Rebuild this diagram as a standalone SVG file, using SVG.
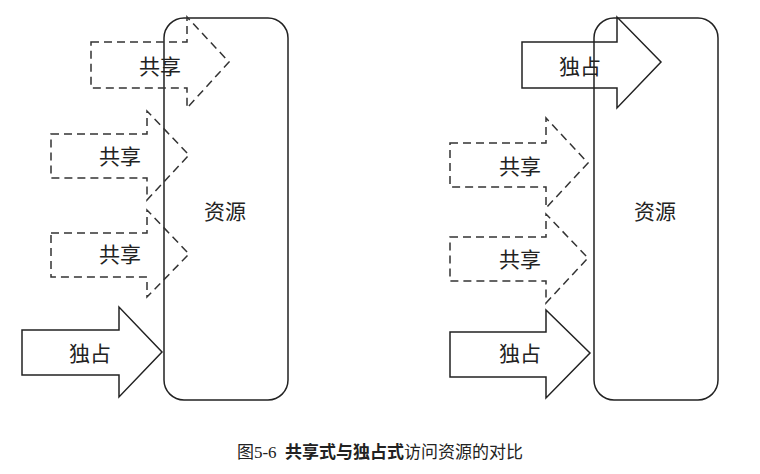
<svg xmlns="http://www.w3.org/2000/svg" width="760" height="474" viewBox="0 0 760 474">
<style>
.res{fill:#fff;stroke:#222;stroke-width:1.5}
.sh{fill:none;stroke:#333;stroke-width:1.5;stroke-dasharray:8,5}
.ex{fill:#fff;stroke:#222;stroke-width:1.5}
text{font-family:"Noto Sans CJK SC",sans-serif;font-size:21px;fill:#222;text-anchor:middle;dominant-baseline:central}
.cap{font-family:"Liberation Serif","Noto Sans CJK SC",serif;font-size:17px}
</style>
<rect width="760" height="474" fill="#fff"/>
<g id="left-resource"><rect class="res" x="164" y="18" width="124" height="382" rx="20"/><text x="225" y="210">资源</text></g>
<g id="right-resource"><rect class="res" x="594" y="18" width="124" height="382" rx="20"/><text x="655" y="210">资源</text></g>
<g id="connectors">
<g id="l-share1"><path class="sh" d="M91,42H187V17L229,62L187,108V88H91Z"/><text x="160" y="65">共享</text></g>
<g id="l-share2"><path class="sh" d="M51,134H147V111L189,155L147,200V178H51Z"/><text x="120" y="155">共享</text></g>
<g id="l-share3"><path class="sh" d="M51,233H147V210L189,254L147,297V277H51Z"/><text x="120" y="253">共享</text></g>
<g id="l-excl"><path class="ex" d="M22,330H119V307L162,352L119,397V375H22Z"/><text x="90" y="352">独占</text></g>
<g id="r-excl1"><path class="ex" d="M522,42H617V17L661,62L617,108V88H522Z" fill-opacity="0"/><text x="580" y="65">独占</text></g>
<g id="r-share1"><path class="sh" d="M450,143H546V118L588,163L546,208V187H450Z"/><text x="520" y="165">共享</text></g>
<g id="r-share2"><path class="sh" d="M450,237H546V214L588,258L546,303V281H450Z"/><text x="520" y="258">共享</text></g>
<g id="r-excl2"><path class="ex" d="M450,332H546V310L590,353L546,398V377H450Z"/><text x="520" y="352">独占</text></g>
</g>
<text class="cap" x="380" y="452" xml:space="preserve">图5-6  <tspan font-weight="bold">共享式与独占式</tspan>访问资源的对比</text>
</svg>
